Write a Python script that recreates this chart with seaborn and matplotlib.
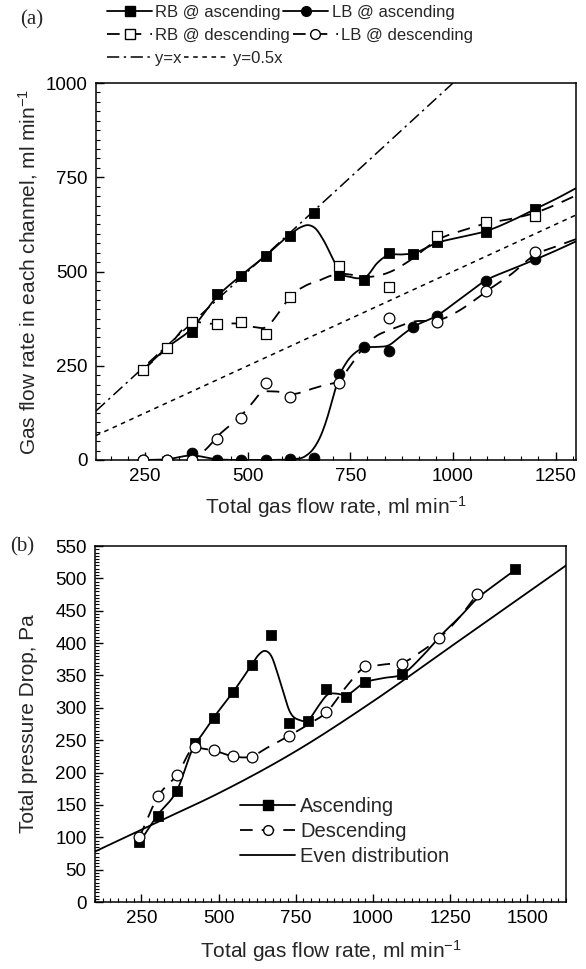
import numpy as np
import pandas as pd
import matplotlib
matplotlib.use('Agg')
import matplotlib.pyplot as plt
import seaborn as sns
from matplotlib.lines import Line2D
from matplotlib.ticker import MultipleLocator

# panel (a): gas flow in each channel (measured points)
flow_a = [245, 303, 363, 424, 484, 544, 603, 662, 723, 782, 843, 902, 961, 1081, 1201]
rb_asc = [240, 298, 340, 440, 488, 540, 595, 655, 490, 478, 548, 546, 578, 605, 666]
lb_asc = [0, 0, 18, 0, 0, 0, 2, 6, 228, 301, 290, 352, 382, 476, 532]
flow_a_desc = [245, 303, 363, 424, 484, 544, 603, 723, 843, 961, 1081, 1201]
rb_desc = [239, 296, 367, 360, 365, 333, 432, 514, 460, 594, 631, 648]
lb_desc = [0, 0, 0, 56, 111, 203, 166, 205, 378, 365, 447, 551]

# panel (a): fitted curves (knots)
rb_asc_fit_x = [245, 303, 363, 424, 484, 544, 603, 630, 648, 665, 684, 709, 725, 749, 770, 790, 815, 843, 871, 902, 961, 1022, 1083, 1143, 1201, 1250, 1300]
rb_asc_fit_y = [240, 298, 348, 432, 490, 542, 598, 618, 623, 614, 584, 530, 497, 486, 482, 488, 522, 544, 545, 548, 576, 592, 608, 635, 666, 692, 721]
rb_desc_fit_x = [245, 303, 363, 400, 424, 484, 520, 544, 575, 603, 640, 676, 700, 723, 760, 798, 847, 896, 961, 1026, 1083, 1143, 1201, 1250, 1300]
rb_desc_fit_y = [239, 297, 365, 362, 361, 361, 352, 352, 390, 433, 462, 477, 488, 494, 490, 486, 499, 530, 583, 610, 628, 640, 656, 677, 702]
lb_asc_fit_x = [245, 303, 363, 424, 484, 544, 603, 640, 660, 680, 693, 710, 723, 740, 760, 782, 814, 843, 872, 902, 961, 1021, 1081, 1141, 1201, 1250, 1300]
lb_asc_fit_y = [0, 2, 12, 2, 0, 0, 2, 10, 30, 70, 110, 175, 222, 258, 283, 297, 300, 304, 328, 352, 383, 430, 477, 505, 532, 555, 580]
lb_desc_fit_x = [245, 303, 363, 404, 424, 484, 510, 530, 562, 611, 660, 688, 723, 750, 782, 815, 847, 904, 969, 1010, 1059, 1081, 1141, 1201, 1250, 1300]
lb_desc_fit_y = [0, 0, 0, 35, 60, 118, 150, 176, 182, 175, 190, 199, 212, 250, 298, 330, 345, 367, 372, 393, 429, 447, 492, 545, 566, 586]

# panel (b): total pressure drop
flow_b_asc = [244, 304, 365, 425, 486, 548, 607, 669, 729, 790, 849, 912, 973, 1095, 1460]
dp_asc = [92, 133, 171, 246, 285, 325, 366, 412, 276, 280, 329, 317, 340, 353, 514]
flow_b_desc = [244, 304, 365, 425, 486, 546, 607, 729, 849, 973, 1095, 1215, 1338]
dp_desc = [100, 164, 197, 240, 235, 225, 224, 257, 293, 364, 368, 408, 476]

asc_fit_x = [244, 304, 365, 425, 441, 486, 548, 607, 630, 650, 672, 690, 704, 731, 763, 790, 822, 855, 880, 912, 973, 1034, 1095, 1160, 1226, 1280, 1333, 1400, 1460]
asc_fit_y = [92, 135, 172, 245, 255, 286, 325, 366, 382, 388, 379, 355, 333, 294, 281, 281, 302, 321, 322, 320, 339, 346, 352, 380, 415, 440, 467, 492, 513]
desc_fit_x = [244, 304, 365, 425, 440, 486, 548, 607, 656, 729, 796, 849, 914, 968, 1020, 1075, 1095, 1150, 1215, 1280, 1338]
desc_fit_y = [100, 163, 196, 240, 238, 234, 225, 225, 238, 257, 276, 293, 333, 361, 366, 369, 370, 385, 408, 440, 476]
even_x = [100, 300, 500, 750, 1000, 1250, 1625]
even_y = [78, 123, 168, 233, 310, 394, 520]


def smooth(xk, yk, n=25):
    # cubic hermite through the knots, just for drawing a smooth line
    xk = np.asarray(xk, float)
    yk = np.asarray(yk, float)
    m = np.gradient(yk, xk)
    xs, ys = [], []
    for i in range(len(xk) - 1):
        h = xk[i + 1] - xk[i]
        t = np.linspace(0, 1, n, endpoint=False)
        h00 = 2 * t**3 - 3 * t**2 + 1
        h10 = t**3 - 2 * t**2 + t
        h01 = -2 * t**3 + 3 * t**2
        h11 = t**3 - t**2
        xs.append(xk[i] + t * h)
        ys.append(h00 * yk[i] + h10 * h * m[i] + h01 * yk[i + 1] + h11 * h * m[i + 1])
    xs.append([xk[-1]])
    ys.append([yk[-1]])
    return np.concatenate(xs), np.concatenate(ys)


sns.set_style('ticks')
plt.rcParams['font.family'] = ['Liberation Sans', 'DejaVu Sans']
plt.rcParams['mathtext.default'] = 'regular'
plt.rcParams['axes.linewidth'] = 1.1

fig = plt.figure(figsize=(5.86, 9.69), dpi=100)
ax1 = fig.add_axes([0.1638, 0.5253, 0.8192, 0.389])
ax2 = fig.add_axes([0.162, 0.0691, 0.804, 0.3674])

LW = 1.3
DASH = (0, (7, 5))
SQ, CI = 55, 60

# ---- panel (a)
line_x = np.array([130, 1000])
sns.lineplot(x=line_x, y=line_x, ax=ax1, color='k', lw=1.1, linestyle=(0, (8, 3, 1.5, 3)), estimator=None)
half_x = np.array([130, 1300])
sns.lineplot(x=half_x, y=0.5 * half_x, ax=ax1, color='k', lw=1.1, linestyle=(0, (3, 3)), estimator=None)

for fx, fy, ls in [(rb_asc_fit_x, rb_asc_fit_y, '-'), (lb_asc_fit_x, lb_asc_fit_y, '-'),
                   (rb_desc_fit_x, rb_desc_fit_y, DASH), (lb_desc_fit_x, lb_desc_fit_y, DASH)]:
    sx, sy = smooth(fx, fy)
    sns.lineplot(x=sx, y=sy, ax=ax1, color='k', lw=LW, linestyle=ls, sort=False, estimator=None)

sns.scatterplot(x=flow_a, y=rb_asc, ax=ax1, marker='s', s=SQ, color='k', edgecolor='k', zorder=3)
sns.scatterplot(x=flow_a, y=lb_asc, ax=ax1, marker='o', s=CI, color='k', edgecolor='k', zorder=3)
sns.scatterplot(x=flow_a_desc, y=rb_desc, ax=ax1, marker='s', s=SQ, color='white', edgecolor='k', linewidth=0.9, zorder=4)
sns.scatterplot(x=flow_a_desc, y=lb_desc, ax=ax1, marker='o', s=CI, color='white', edgecolor='k', linewidth=0.9, zorder=4)

ax1.set_xlim(130, 1300)
ax1.set_ylim(0, 1000)
ax1.xaxis.set_major_locator(MultipleLocator(250))
ax1.xaxis.set_minor_locator(MultipleLocator(250 / 6))
ax1.yaxis.set_major_locator(MultipleLocator(250))
ax1.yaxis.set_minor_locator(MultipleLocator(25))
ax1.set_xlabel('Total gas flow rate, ml min$^{-1}$', fontsize=15, labelpad=6)
ax1.set_ylabel('Gas flow rate in each channel, ml min$^{-1}$', fontsize=15, labelpad=4)

# ---- panel (b)
sx, sy = smooth(even_x, even_y)
sns.lineplot(x=sx, y=sy, ax=ax2, color='k', lw=LW, sort=False, estimator=None)
sx, sy = smooth(asc_fit_x, asc_fit_y)
sns.lineplot(x=sx, y=sy, ax=ax2, color='k', lw=LW, sort=False, estimator=None)
sx, sy = smooth(desc_fit_x, desc_fit_y)
sns.lineplot(x=sx, y=sy, ax=ax2, color='k', lw=LW, linestyle=DASH, sort=False, estimator=None)
sns.scatterplot(x=flow_b_asc, y=dp_asc, ax=ax2, marker='s', s=48, color='k', edgecolor='k', zorder=3)
sns.scatterplot(x=flow_b_desc, y=dp_desc, ax=ax2, marker='o', s=CI, color='white', edgecolor='k', linewidth=0.9, zorder=4)

ax2.set_xlim(100, 1625)
ax2.set_ylim(0, 550)
ax2.xaxis.set_major_locator(MultipleLocator(250))
ax2.xaxis.set_minor_locator(MultipleLocator(25))
ax2.yaxis.set_major_locator(MultipleLocator(50))
ax2.yaxis.set_minor_locator(MultipleLocator(5))
ax2.set_xlabel('Total gas flow rate, ml min$^{-1}$', fontsize=15, labelpad=8)
ax2.set_ylabel('Total pressure Drop, Pa', fontsize=15, labelpad=12)

for ax in (ax1, ax2):
    for sp in ax.spines.values():
        sp.set_visible(True)
        sp.set_color('k')
    ax.tick_params(which='both', direction='in', top=False, right=False, labelsize=13.5, colors='k')
    ax.tick_params(which='major', length=6, width=1)
    ax.tick_params(which='minor', length=3, width=0.8)
    ax.tick_params(axis='x', pad=6)
    ax.tick_params(axis='y', pad=6)
    ax.legend_ = None

# ---- legends
def h(marker, mfc, ls, ms=7):
    return Line2D([], [], color='k', lw=LW, linestyle=ls, marker=marker, markersize=ms,
                  markerfacecolor=mfc, markeredgecolor='k')

lkw = dict(loc='upper left', frameon=False, fontsize=12, ncol=2, borderpad=0, borderaxespad=0,
           handlelength=2.7, handletextpad=0.2, columnspacing=0.15)
fig.legend([h('s', 'k', '-'), h('o', 'k', '-')], ['RB @ ascending', 'LB @ ascending'],
           bbox_to_anchor=(107 / 586, 1 - 5 / 969), **lkw)
fig.legend([h('s', 'w', DASH), h('o', 'w', DASH)], ['RB @ descending', 'LB @ descending'],
           bbox_to_anchor=(107 / 586, 1 - 28 / 969), **lkw)
fig.legend([Line2D([], [], color='k', lw=1.1, linestyle=(0, (8, 3, 1.5, 3))),
            Line2D([], [], color='k', lw=1.1, linestyle=(0, (3, 3)))], ['y=x', 'y=0.5x'],
           bbox_to_anchor=(107 / 586, 1 - 51 / 969), **lkw)

ax2.legend([h('s', 'k', '-'), h('o', 'w', DASH), Line2D([], [], color='k', lw=LW)],
           ['Ascending', 'Descending', 'Even distribution'],
           loc='upper left', bbox_to_anchor=(240 / 586, 1 - 797 / 969), bbox_transform=fig.transFigure,
           frameon=False, fontsize=14.5, borderpad=0, borderaxespad=0, handlelength=2.75,
           handletextpad=0.25, labelspacing=0.3)

fig.text(20 / 586, 1 - 20 / 969, '(a)', family='Liberation Serif', fontsize=15, va='center')
fig.text(10 / 586, 1 - 547 / 969, '(b)', family='Liberation Serif', fontsize=15, va='center')

fig.savefig('out.png', dpi=100)
